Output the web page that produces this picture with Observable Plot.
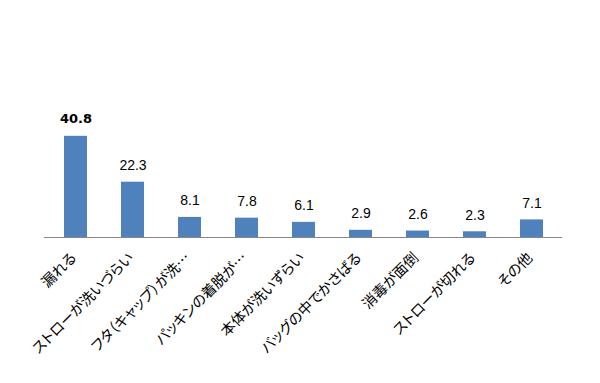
<!DOCTYPE html>
<html><head><meta charset="utf-8">
<script src="https://cdn.jsdelivr.net/npm/d3@7"></script>
<script src="https://cdn.jsdelivr.net/npm/@observablehq/plot@0.6"></script>
<style>body{margin:0;background:#fff}
#chart g[aria-label="x-axis tick label"] text{font-feature-settings:"palt";}
</style>
</head><body><div id="chart"></div>
<script>
const categories = ["漏れる","ストローが洗いづらい","フタ（キャップ）が洗…","パッキンの着脱が…","本体が洗いずらい","バッグの中でかさばる","消毒が面倒","ストローが切れる","その他"];
const values = [40.8,22.3,8.1,7.8,6.1,2.9,2.6,2.3,7.1];
const data = categories.map((c,i)=>({cat:c, v:values[i]}));
const chart = Plot.plot({
  width:600, height:383,
  marginLeft:44, marginRight:38, marginTop:113, marginBottom:146,
  style:{background:"#fff"},
  x:{domain:categories, paddingInner:0.6, paddingOuter:0.3, axis:null},
  y:{domain:[0,50], axis:null},
  marks:[
    Plot.barY(data,{x:"cat", y:"v", fill:"#4F81BD"}),
    Plot.ruleY([0],{stroke:"#868686", strokeWidth:1}),
    Plot.text(data.filter((d,i)=>i>0),{x:"cat", y:"v", text:d=>d.v.toFixed(1), dy:-12, lineAnchor:"bottom", fontFamily:"Liberation Sans", fontSize:14, fill:"#000"}),
    Plot.text(data.filter((d,i)=>i===0),{x:"cat", y:"v", text:d=>d.v.toFixed(1), dy:-13, lineAnchor:"bottom", fontFamily:"DejaVu Sans", fontWeight:"bold", fontSize:13, fill:"#000"}),
    Plot.axisX({domain:categories, tickRotate:-45, tickSize:0, tickPadding:18, dx:-2, fontSize:14.5, fontFamily:"Noto Sans CJK JP", label:null, color:"#000"})
  ]
});
document.getElementById("chart").append(chart);
</script></body></html>
